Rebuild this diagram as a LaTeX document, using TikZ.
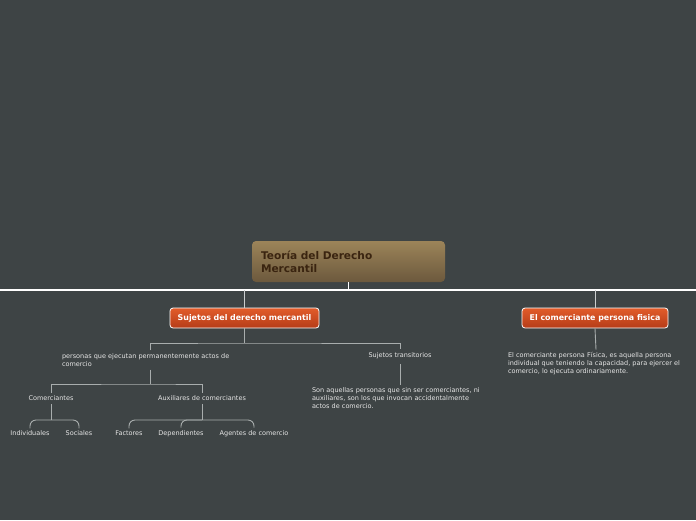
\documentclass[tikz,border=0pt]{standalone}
\usepackage{fontspec}
\setmainfont{DejaVu Sans}
\definecolor{bgc}{HTML}{3E4445}
\definecolor{rootA}{HTML}{9C8459}
\definecolor{rootB}{HTML}{6C593D}
\definecolor{rootT}{HTML}{3A2410}
\definecolor{orA}{HTML}{E25C2A}
\definecolor{orB}{HTML}{B53C18}
\definecolor{linec}{HTML}{A8ADAD}
\definecolor{txtc}{HTML}{E6E6E6}
\begin{document}
\begin{tikzpicture}[x=1pt,y=-1pt,
  small/.style={font=\fontsize{6.5}{8}\selectfont, text=txtc, inner sep=0pt, align=left},
  leaf/.style={font=\fontsize{6.5}{8}\selectfont, text=txtc, inner xsep=1pt, inner ysep=2.5pt},
  subbox/.style={draw=white, line width=0.8pt, rounded corners=3pt, top color=orA, bottom color=orB,
    text=white, font=\bfseries\fontsize{7.9}{9}\selectfont, minimum height=20pt, inner sep=0pt},
  rootbox/.style={rounded corners=4pt, top color=rootA, bottom color=rootB, text=rootT,
    font=\bfseries\fontsize{10.6}{13}\selectfont, minimum width=193pt, minimum height=41pt,
    text width=175pt, align=left, inner sep=0pt},
  conn/.style={draw=linec, line width=0.9pt},
  mainconn/.style={draw=white, line width=1.6pt},
  brace/.style={draw=linec, line width=0.9pt, rounded corners=6pt},
]
\fill[bgc] (0,0) rectangle (696,520);
\useasboundingbox (0,0) rectangle (696,520);

% root
\node[rootbox] (root) at (348.5,261.5) {Teoría del Derecho\\Mercantil};

% bus
\coordinate (L) at (0,290);
\coordinate (R) at (696,290);
\draw[mainconn] (L) -- (R);
\draw[draw=white, line width=1pt] (root.south) -- (root.south |- L);

% sub nodes
\node[subbox, minimum width=149pt] (suj) at (244.5,318) {Sujetos del derecho mercantil};
\node[subbox, minimum width=146pt] (fis) at (595,318) {El comerciante persona fisica};
\draw[draw=linec!60!white, line width=1pt] (suj.north |- L) -- (suj.north);
\draw[draw=linec!60!white, line width=1pt] (fis.north |- L) -- (fis.north);

% level 2 under Sujetos
\coordinate (b0) at (0,343);
\node[small, text width=176pt] (per) at (150,360) {personas que ejecutan permanentemente actos de\\comercio};
\node[leaf] (tra) at (400,356) {Sujetos transitorios};
\draw[conn] (suj.south) -- (suj.south |- b0);
\draw[conn] ([yshift=3pt]per.north) |- (suj.south |- b0) -| ([yshift=1pt]tra.north);

% Sujetos transitorios description
\node[small, text width=176pt] (son) at (400,398) {Son aquellas personas que sin ser comerciantes, ni\\auxiliares, son los que invocan accidentalmente\\actos de comercio.};
\draw[conn] ([yshift=-2pt]tra.south) -- ([yshift=2pt]son.north);

% persona fisica description
\node[small, text width=176pt] (fisd) at (596,364) {El comerciante persona Física, es aquella persona\\individual que teniendo la capacidad, para ejercer el\\comercio, lo ejecuta ordinariamente.};
\draw[conn] (fis.south) -- ([yshift=3pt]fisd.north);

% level 3
\coordinate (b1) at (0,384);
\node[leaf] (com) at (51,398) {Comerciantes};
\node[leaf] (aux) at (202,398) {Auxiliares de comerciantes};
\draw[conn] ([yshift=-3pt]per.south) -- (per.south |- b1);
\draw[conn] (com.north) |- (per.south |- b1) -| (aux.north);

% level 4
\coordinate (b2) at (0,420);
\node[leaf] (ind) at (30,433.5) {Individuales};
\node[leaf] (soc) at (79,433.5) {Sociales};
\node[leaf] (fac) at (129,433.5) {Factores};
\node[leaf] (dep) at (181,433.5) {Dependientes};
\node[leaf] (age) at (254,433.5) {Agentes de comercio};

\draw[conn] ([yshift=-1pt]com.south) -- (com.south |- b2);
\draw[brace] (ind.north) |- (com.south |- b2) -| (soc.north);
\draw[conn] ([yshift=-1pt]aux.south) -- (aux.south |- b2);
\draw[brace] (fac.north) |- (aux.south |- b2) -| (age.north);
\draw[brace] (dep.north) |- (aux.south |- b2);
\end{tikzpicture}
\end{document}
